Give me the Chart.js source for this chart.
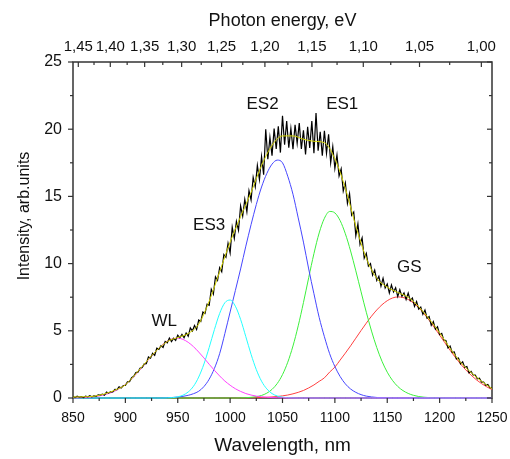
<!DOCTYPE html>
<html><head><meta charset="utf-8">
<script src="https://cdn.jsdelivr.net/npm/chart.js@4.4.0/dist/chart.umd.min.js"></script>
<style>html,body{margin:0;padding:0;background:#fff;}</style>
</head><body>
<canvas id="c" width="510" height="459"></canvas>
<script>
// ---- axes / ticks ----
const xTicks = [850, 900, 950, 1000, 1050, 1100, 1150, 1200, 1250];
const xMinorTicks = [875, 925, 975, 1025, 1075, 1125, 1175, 1225];
const yTicks = [0, 5, 10, 15, 20, 25];
const yMinorTicks = [2.5, 7.5, 12.5, 17.5, 22.5];
const energyTicks = [1.45, 1.40, 1.35, 1.30, 1.25, 1.20, 1.15, 1.10, 1.05, 1.00];
const energyLabels = ['1,45', '1,40', '1,35', '1,30', '1,25', '1,20', '1,15', '1,10', '1,05', '1,00'];
const energyMinorTicks = [1.425, 1.375, 1.325, 1.275, 1.225, 1.175, 1.125, 1.075, 1.025];
const HC = 1239.84; // eV*nm

// ---- sampling grids (nm) ----
const dataStart = 850, dataStep = 2;   // measured spectrum
const compStart = 850, compStep = 5;   // fitted components
const fitStart = 850, fitStep = 10;    // cumulative fit

// ---- measured spectrum (black) ----
const spectrum = [
0.10,0.03,0.13,0.06,0.10,0.04,0.13,0.08,0.17,0.09,0.15,0.12,0.24,0.22,0.29,0.20,0.44,0.36,0.48,0.45,0.64,0.62,0.83,0.74,0.93,
0.93,1.21,1.22,1.51,1.62,1.90,1.92,2.21,2.26,2.54,2.56,3.05,2.96,3.33,3.18,3.71,3.62,3.89,3.76,4.21,4.10,4.46,4.20,4.44,4.28,
4.68,4.48,4.74,4.48,4.84,4.59,5.21,4.99,5.40,5.09,5.80,5.69,6.39,6.28,6.98,6.90,8.09,7.73,9.02,8.76,9.70,9.39,10.68,10.47,11.51,
10.80,12.70,11.88,13.14,12.48,14.30,13.54,14.78,13.86,15.42,14.74,16.42,15.70,17.30,16.26,17.96,16.61,20.00,17.76,19.38,18.03,20.04,18.53,20.21,18.26,
21.00,18.84,20.60,18.62,20.05,18.51,20.33,18.96,20.45,18.53,19.91,18.12,20.18,18.61,20.60,18.22,21.20,18.40,19.81,18.03,19.88,18.21,19.62,17.51,18.70,
17.08,18.08,16.52,17.04,15.40,16.00,14.48,15.20,13.60,13.84,12.08,12.96,11.44,11.92,10.40,10.76,9.82,10.00,9.14,9.52,8.74,9.05,8.32,8.91,8.18,
8.49,7.81,8.41,7.89,8.21,7.55,8.05,7.56,7.82,7.33,7.80,7.24,7.43,6.81,7.18,6.62,6.77,6.22,6.55,5.94,6.06,5.40,5.68,5.11,5.30,
4.71,4.80,4.31,4.28,3.73,3.86,3.39,3.42,2.91,2.97,2.54,2.69,2.28,2.34,1.87,1.98,1.72,1.70,1.43,1.48,1.18,1.19,0.94,1.00,0.77,
0.76];

// ---- cumulative fit (yellow) ----
const fitSum = [0.07,0.09,0.13,0.30,0.58,0.98,1.80,2.70,3.55,4.20,4.50,4.80,5.50,7.20,9.40,11.60,13.50,15.30,17.30,18.80,
19.50,19.50,19.25,19.10,19.00,17.80,15.60,12.80,10.40,8.90,8.25,7.85,7.50,6.80,5.88,4.85,3.70,2.66,1.90,1.25,0.70];

// ---- components ----
const peakWL = [0.01,0.02,0.03,0.06,0.10,0.15,0.24,0.36,0.52,0.74,1.01,1.35,1.75,2.18,2.65,3.12,3.56,3.94,4.23,4.41,
4.45,4.36,4.14,3.82,3.42,2.98,2.51,2.06,1.64,1.26,0.95,0.69,0.49,0.33,0.22,0.14,0.09,0.06,0.03,0.02,0.01,
0,0,0,0,0,0,0,0,0,0,0,0,0,0,0,0,0,0,0,0,0,0,0,0,0,0,0,0,0,0,0,0,0,0,0,0,0,0,0,0];
const peakES3 = [0,0,0,0,0,0,0,0,0,0,0,0,0,0,0,0,0,
0.00,0.01,0.03,0.09,0.21,0.45,0.87,1.56,2.53,3.76,5.09,6.29,7.09,7.29,6.83,5.85,4.56,3.25,2.11,1.25,0.68,0.33,0.15,0.06,0.02,0.01,
0,0,0,0,0,0,0,0,0,0,0,0,0,0,0,0,0,0,0,0,0,0,0,0,0,0,0,0,0,0,0,0,0,0,0,0,0,0];
const peakES2 = [0,0,0,0,0,0,0,0,0,0,0,0,0,0,0,0,0,0,
0.02,0.04,0.07,0.12,0.20,0.32,0.50,0.85,1.40,2.20,3.30,4.80,6.40,8.00,9.60,11.30,12.90,14.40,15.70,16.70,
17.40,17.70,17.50,16.50,15.16,13.40,11.60,9.60,7.76,6.00,4.56,3.30,2.34,1.60,1.05,0.67,0.42,0.25,0.14,0.08,
0.04,0.02,0.01,0,
0,0,0,0,0,0,0,0,0,0,0,0,0,0,0,0,0,0,0];
const peakES1 = [0,0,0,0,0,0,0,0,0,0,0,0,0,0,0,0,0,0,0,0,0,0,0,0,0,0,0,0,0,0,0,
0.00,0.01,0.02,0.05,0.10,0.19,0.36,0.64,1.08,1.74,2.66,3.87,5.37,7.10,8.95,10.74,12.28,13.37,13.88,13.77,
13.20,12.22,10.94,9.46,7.90,6.38,4.98,3.75,2.73,1.92,1.31,0.86,0.55,0.34,0.20,0.11,0.06,0.03,0.01,0,
0,0,0,0,0,0,0,0,0,0];
const peakGS = [0,0,0,0,0,0,0,0,0,0,0,0,0,0,0,0,0,0,0,0,0,0,0,0,0,0,0,0,0,
0.00,0.00,0.00,0.01,0.01,0.02,0.02,0.04,0.05,0.08,0.11,0.16,0.22,0.31,0.42,0.56,0.75,0.97,1.24,1.50,1.93,2.30,
2.82,3.34,3.88,4.45,5.02,5.57,6.09,6.55,6.94,7.24,7.44,7.52,7.48,7.33,7.07,6.72,6.28,5.78,5.24,4.68,
4.11,3.55,3.02,2.53,2.09,1.70,1.36,1.07,0.83,0.63];

// ---- peak annotations (text, wavelength, intensity) ----
const peakNames = ['WL', 'ES3', 'ES2', 'ES1', 'GS'];
const peakNameAt = [[937, 5.7], [980, 12.85], [1031, 21.85], [1107, 21.85], [1171, 9.7]];

const FONT = "'Liberation Sans', Arial, sans-serif";

function toXY(start, step, arr) {
  return arr.map((v, i) => ({ x: start + step * i, y: v }));
}

const datasets = [
  { label: 'Fit', data: toXY(fitStart, fitStep, fitSum), borderColor: '#d4d400', borderWidth: 1, order: 0, cubicInterpolationMode: 'monotone' },
  { label: 'Data', data: toXY(dataStart, dataStep, spectrum), borderColor: '#000000', borderWidth: 1.2, order: 1 },
  { label: 'WL', data: toXY(compStart, compStep, peakWL), borderColor: '#ff40ff', borderWidth: 1, order: 2, cubicInterpolationMode: 'monotone' },
  { label: 'ES3', data: toXY(compStart, compStep, peakES3), borderColor: '#22ffff', borderWidth: 1, order: 3, cubicInterpolationMode: 'monotone' },
  { label: 'ES2', data: toXY(compStart, compStep, peakES2), borderColor: '#4646ff', borderWidth: 1, order: 4, cubicInterpolationMode: 'monotone' },
  { label: 'ES1', data: toXY(compStart, compStep, peakES1), borderColor: '#3cf03c', borderWidth: 1, order: 5, cubicInterpolationMode: 'monotone' },
  { label: 'GS', data: toXY(compStart, compStep, peakGS), borderColor: '#ff4040', borderWidth: 1, order: 6, cubicInterpolationMode: 'monotone' }
];
datasets.forEach(d => { d.pointRadius = 0; d.fill = false; d.clip = 4; });

const framePlugin = {
  id: 'frame',
  beforeDatasetsDraw(chart) {
    const { ctx, chartArea: a } = chart;
    ctx.save();
    ctx.strokeStyle = '#333';
    ctx.lineWidth = 1.5;
    ctx.strokeRect(a.left, a.top, a.right - a.left, a.bottom - a.top);
    ctx.restore();
  },
  afterDraw(chart) {
    const { ctx, chartArea: a, scales } = chart;
    const sx = scales.x, sy = scales.y;
    ctx.save();
    ctx.strokeStyle = '#333';
    ctx.lineWidth = 1.2;
    const seg = (x1, y1, x2, y2) => { ctx.beginPath(); ctx.moveTo(x1, y1); ctx.lineTo(x2, y2); ctx.stroke(); };
    xTicks.forEach(v => { const p = sx.getPixelForValue(v); seg(p, a.bottom, p, a.bottom + 5); });
    xMinorTicks.forEach(v => { const p = sx.getPixelForValue(v); seg(p, a.bottom, p, a.bottom + 3); });
    energyTicks.forEach(e => { const p = sx.getPixelForValue(HC / e); seg(p, a.top, p, a.top + 5); });
    energyMinorTicks.forEach(e => { const p = sx.getPixelForValue(HC / e); seg(p, a.top, p, a.top + 3); });
    yTicks.forEach(v => { const p = sy.getPixelForValue(v); seg(a.left - 5, p, a.left, p); seg(a.right - 5, p, a.right, p); });
    yMinorTicks.forEach(v => { const p = sy.getPixelForValue(v); seg(a.left - 3, p, a.left, p); seg(a.right - 3, p, a.right, p); });

    ctx.fillStyle = '#111';
    ctx.textAlign = 'center';
    ctx.textBaseline = 'middle';
    const cx = (a.left + a.right) / 2;
    ctx.font = '19px ' + FONT;
    ctx.fillText('Wavelength, nm', cx, 446);
    ctx.font = '18px ' + FONT;
    ctx.fillText('Photon energy, eV', cx, 21.5);
    ctx.font = '16px ' + FONT;
    ctx.save();
    ctx.translate(24.5, 216);
    ctx.rotate(-Math.PI / 2);
    ctx.fillText('Intensity, arb.units', 0, 0);
    ctx.restore();

    ctx.font = '17px ' + FONT;
    peakNames.forEach((t, i) => {
      ctx.fillText(t, sx.getPixelForValue(peakNameAt[i][0]), sy.getPixelForValue(peakNameAt[i][1]));
    });
    ctx.restore();
  }
};

const noGrid = { display: false, drawTicks: false };
const zeroPadX = s => { s.paddingLeft = 0; s.paddingRight = 0; };
const zeroPadY = s => { s.paddingTop = 0; s.paddingBottom = 0; };

new Chart(document.getElementById('c'), {
  type: 'line',
  data: { datasets },
  options: {
    responsive: false,
    animation: false,
    devicePixelRatio: 1,
    layout: { padding: 0 },
    plugins: { legend: { display: false }, tooltip: { enabled: false } },
    scales: {
      x: {
        type: 'linear', position: 'bottom', min: 850, max: 1250,
        afterBuildTicks: s => { s.ticks = xTicks.map(v => ({ value: v })); },
        ticks: { font: { family: FONT, size: 14 }, color: '#111', padding: 12, maxRotation: 0, autoSkip: false, callback: v => String(v) },
        grid: noGrid, border: { display: false },
        afterFit: s => { s.height = 61; zeroPadX(s); }
      },
      xTop: {
        type: 'linear', position: 'top', min: 850, max: 1250,
        afterBuildTicks: s => { s.ticks = energyTicks.map(e => ({ value: HC / e })); },
        ticks: { font: { family: FONT, size: 15 }, color: '#111', padding: 6, maxRotation: 0, autoSkip: false, callback: (v, i) => energyLabels[i] },
        grid: noGrid, border: { display: false },
        afterFit: s => { s.height = 62; zeroPadX(s); }
      },
      y: {
        type: 'linear', position: 'left', min: 0, max: 25,
        afterBuildTicks: s => { s.ticks = yTicks.map(v => ({ value: v })); },
        ticks: { font: { family: FONT, size: 16 }, color: '#111', padding: 11, callback: v => String(v) },
        grid: noGrid, border: { display: false },
        afterFit: s => { s.width = 73; zeroPadY(s); }
      },
      yRight: {
        type: 'linear', position: 'right', min: 0, max: 25,
        ticks: { display: false },
        grid: noGrid, border: { display: false },
        afterFit: s => { s.width = 18; zeroPadY(s); }
      }
    }
  },
  plugins: [framePlugin]
});
</script>
</body></html>
